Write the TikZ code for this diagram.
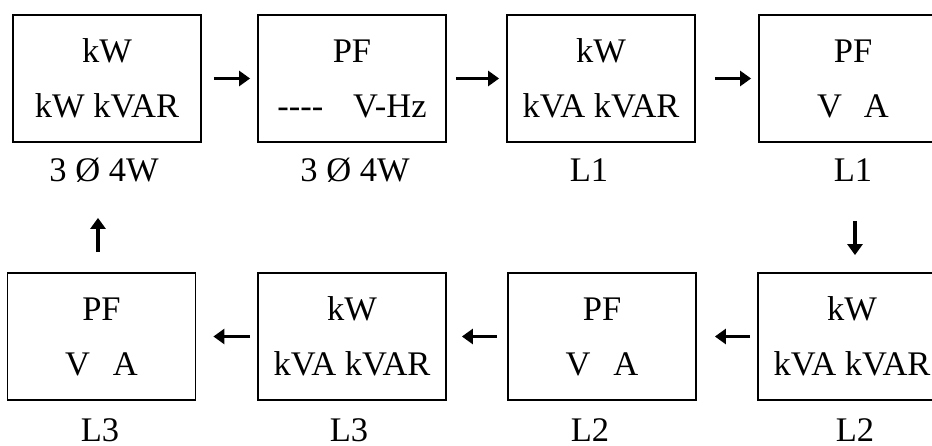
\documentclass[tikz,border=0pt]{standalone}
\usepackage{fontspec}
\setmainfont{Liberation Serif}
\usetikzlibrary{arrows.meta}
\begin{document}
\begin{tikzpicture}[x=1pt,y=-1pt,
  box/.style={draw,line width=1.8pt,minimum width=188pt,minimum height=127pt,inner sep=0pt,align=center,font=\fontsize{34.5}{55}\selectfont},
  lab/.style={anchor=base,font=\fontsize{34.5}{40}\selectfont,inner sep=0pt,text depth=0pt},
  arr/.style={line width=3.5pt,-{Triangle[length=11pt,width=15pt]}}]
\clip (0,0) rectangle (932,446);
% top row
\node[box] (b1) at (107,78.5) {kW\\kW kVAR};
\node[box] (b2) at (352,78.5) {PF\\-{}-{}-{}-\hspace{30pt}V-Hz};
\node[box] (b3) at (601,78.5) {kW\\kVA kVAR};
\node[box] (b4) at (853,78.5) {PF\\V\hspace{22pt}A};
% bottom row
\node[box] (c1) at (101.5,336.5) {PF\\V\hspace{23pt}A};
\node[box] (c2) at (352,336.5) {kW\\kVA kVAR};
\node[box] (c3) at (602,336.5) {PF\\V\hspace{23pt}A};
\node[box] (c4) at (852,336.5) {kW\\kVA kVAR};
% labels
\node[lab] (l1) at (104,182) {3 Ø 4W};
\node[lab] (l2) at (355,182) {3 Ø 4W};
\node[lab] (l3) at (589,182) {L1};
\node[lab] (l4) at (853,182) {L1};
\node[lab] (l5) at (100,441) {L3};
\node[lab] (l6) at (349,441) {L3};
\node[lab] (l7) at (590,441) {L2};
\node[lab] (l8) at (855,441) {L2};
% arrows
\draw[arr,shorten <=12pt,shorten >=7pt] (b1.east) -- (b2.west);
\draw[arr,shorten <=9pt,shorten >=7pt] (b2.east) -- (b3.west);
\draw[arr,shorten <=19pt,shorten >=7pt] (b3.east) -- (b4.west);
\draw[arr,shorten <=78pt,shorten >=17pt] ([xshift=2pt]b4.south) -- ([xshift=3pt]c4.north);
\draw[arr,shorten <=7pt,shorten >=18pt] (c4.west) -- (c3.east);
\draw[arr,shorten <=10pt,shorten >=15pt] (c3.west) -- (c2.east);
\draw[arr,shorten <=7pt,shorten >=17pt] (c2.west) -- (c1.east);
\draw[arr,shorten <=20pt,shorten >=75pt] ([xshift=-3.5pt]c1.north) -- ([xshift=-9pt]b1.south);
\end{tikzpicture}
\end{document}
